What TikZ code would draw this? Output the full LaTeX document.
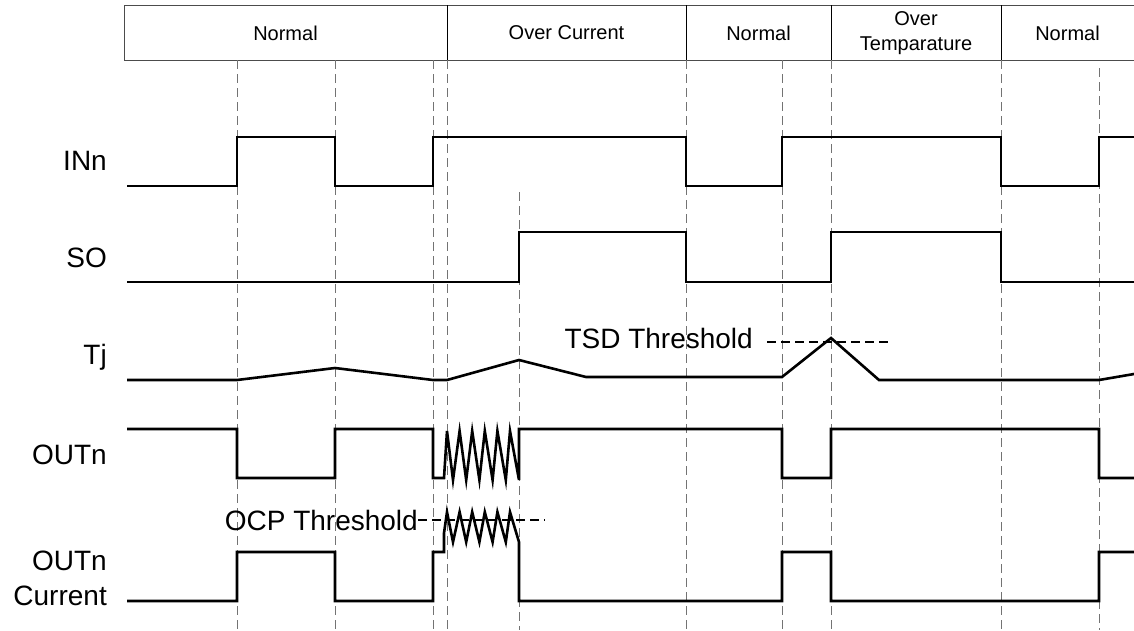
\documentclass[tikz,border=0pt]{standalone}
\usepackage{fontspec}
\setmainfont{Liberation Sans}
\tikzset{
  wave/.style={line width=2.6pt},
  guide/.style={draw=black!55,line width=0.8pt,dash pattern=on 9pt off 5pt},
  frame/.style={draw=black!70,line width=0.9pt},
  limit/.style={line width=2pt,dash pattern=on 9pt off 5pt},
  sig/.style={anchor=east,inner sep=0pt,align=right,font=\fontsize{28}{35}\selectfont},
  phase/.style={align=center,inner sep=0pt,font=\fontsize{20}{25}\selectfont},
  note/.style={anchor=east,inner sep=0pt,font=\fontsize{28}{34}\selectfont},
}
\begin{document}
\begin{tikzpicture}[x=1pt,y=-1pt]
        \useasboundingbox (0,0) rectangle (1134,630);
        % header with the operating phases
        \draw[frame] (1134,5) -- (124,5) -- (124,60) -- (1134,60);
        \foreach \x in {447,686,831,1001} \draw[frame,draw=black] (\x,5) -- (\x,60);
        \foreach \t/\a/\b [count=\i] in {Normal/124/447,Over Current/447/686,Normal/686/831,Over\\Temparature/831/1001,Normal/1001/1134}
          \node[phase] (ph\i) at ({(\a+\b)/2},33) {\t};
        \foreach \x in {237,335,433,447,686,782,831,1001} \draw[guide] (\x,60) -- (\x,630);
        \draw[guide] (1099,68) -- (1099,630);
        \draw[guide] (519,192) -- (519,630);
        % signal names
        \foreach \n/\t/\y in {in/INn/161,so/SO/258,tj/Tj/357,out/OUTn/455,cur/OUTn\\Current/578}
          \node[sig] (l\n) at (107,\y) {\t};
        % waveforms
        \draw[wave] (127,186) -| (237,137) -| (335,186) -| (433,137) -| (686,186) -| (782,137) -| (1001,186) -| (1099,137) -- (1134,137);
        \draw[wave] (127,282) -| (519,232) -| (686,282) -| (831,232) -| (1001,282) -- (1134,282);
        \draw[wave] (127,380) -- (237,380) -- (335,368) -- (433,380) -- (447,380) -- (519,360) -- (586,377) -- (782,377)
          -- (831,338) -- (879,380) -- (1099,380) -- (1134,374);
        \draw[wave] (127,429) -| (237,478) -| (335,429) -| (433,478) -- (444,478)
          \foreach \k in {0,...,5} { -- ({447+12.6*\k},431) -- ({453+13.2*\k},480) }
          -- (519,429) -| (782,478) -| (831,429) -| (1099,478) -- (1134,478);
        \draw[wave] (127,601) -| (237,552) -| (335,601) -| (433,552) -- (444,552) -- (444,533)
          \foreach \k in {0,...,5} { -- ({447+12.6*\k},512) -- ({453+13.2*\k},542) }
          -- (519,601) -| (782,552) -| (831,601) -| (1099,552) -- (1134,552);
        % thresholds
        \node[note] (tsd) at (753,338) {TSD Threshold};
        \coordinate (tsdbeg) at (767,342);
        \coordinate (tsdend) at (889,342);
        \draw[limit] (tsdbeg) -- (tsdend);
        \node[note] (ocp) at (418,520) {OCP Threshold};
        \coordinate (ocpend) at (545,520);
        \draw[limit] (ocp.east) -- (ocpend);
\end{tikzpicture}
\end{document}
